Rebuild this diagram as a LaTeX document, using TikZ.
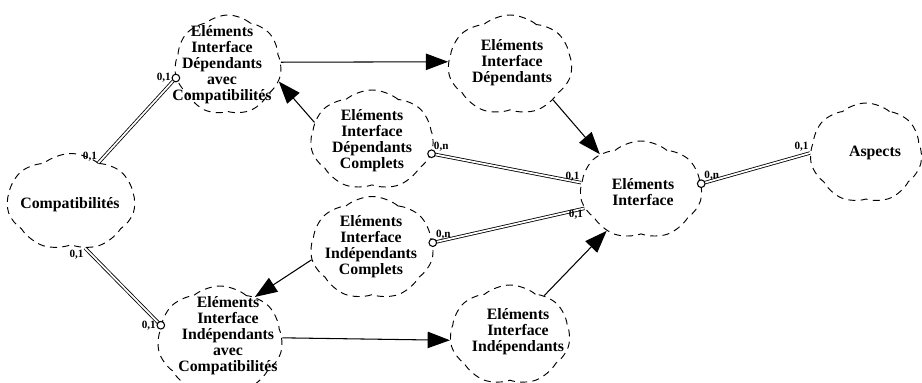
\documentclass[tikz,border=0pt]{standalone}
\usepackage{fontspec}
\setmainfont{Liberation Serif}
\usetikzlibrary{positioning,arrows.meta,shapes.symbols}

\begin{document}
\begin{tikzpicture}[x=0.03cm,y=-0.03cm,
    blob/.style={cloud,cloud puffs=7,cloud puff arc=80,cloud ignores aspect,draw,
      dash pattern=on 6pt off 4.5pt,line width=0.8pt,inner sep=0pt},
    txt/.style={align=center,font=\fontsize{13.5}{13.6}\selectfont\bfseries,inner sep=0pt},
    lab/.style={font=\fontsize{9.5}{10}\selectfont\bfseries,inner sep=1pt},
    agg/.style={double,double distance=1.5pt,line width=0.7pt},
    ring/.style={circle,draw,fill=white,line width=0.9pt,inner sep=0pt,minimum size=6.5pt},
    isa/.style={-{Triangle[length=19pt,width=14pt]},line width=0.9pt}]
  \useasboundingbox (0,0) rectangle (922,382);
  % Clouds
  \foreach \n/\x/\y/\w/\h in {compat/71/202/3.84/2.91, eidc/228/65/3.21/3.0,
      eid/510/65/3.72/3.0, eidcpl/372/140/3.69/3.0, ei/641/190/3.66/2.94,
      asp/866/153/3.36/3.0, eiicpl/372/248/3.69/3.09, eii/510/335/3.6/3.0,
      eiic/220/340/3.75/3.24} {
    \node[blob,minimum width=\w cm,minimum height=\h cm] (\n) at (\x,\y) {};
  }
  % Class names
  \node[txt] (compatT) at (70,205) {Compatibilités};
  \node[txt] (eidcT) at (222,65) {Eléments\\Interface\\Dépendants\\avec\\Compatibilités};
  \node[txt] (eidT) at (512,63) {Eléments\\Interface\\Dépendants};
  \node[txt] (eidcplT) at (372,141) {Eléments\\Interface\\Dépendants\\Complets};
  \node[txt] (eiT) at (643,192) {Eléments\\Interface};
  \node[txt] (aspT) at (875,153) {Aspects};
  \node[txt] (eiicplT) at (371,247) {Eléments\\Interface\\Indépendants\\Complets};
  \node[txt] (eiiT) at (518,332) {Eléments\\Interface\\Indépendants};
  \node[txt] (eiicT) at (228,336) {Eléments\\Interface\\Indépendants\\avec\\Compatibilités};
  % Inheritance
  \foreach \a/\b in {eidc.3/eid.177, eidcpl.163/eidc.342, eid.321/ei.139,
      eiic.2/eii.185, eiicpl.191/eiic.51, eii.49/ei.230} {
    \draw[isa] (\a) -- (\b);
  }
  % Aggregations
  \draw[agg] (compat.55) node[lab,above left]{0,1} -- (eidc.194) node[lab,left=3pt]{0,1};
  \draw[agg] (compat.287) node[lab,below left]{0,1} -- (eiic.166) node[lab,left=3pt]{0,1};
  \draw[agg] (eidcpl.347) node[lab,above right=1pt]{0,n} -- (ei.173) node[lab,above left]{0,1};
  \draw[agg] (eiicpl.5) node[lab,above right=2pt]{0,n} -- (ei.198) node[lab,below left]{0,1};
  \draw[agg] (ei.6) node[lab,above right=2pt]{0,n} -- (asp.180) node[lab,above left]{0,1};
  \foreach \r in {eidc.194, eiic.166, eidcpl.347, eiicpl.5, ei.6} {
    \node[ring] at (\r) {};
  }
\end{tikzpicture}
\end{document}
